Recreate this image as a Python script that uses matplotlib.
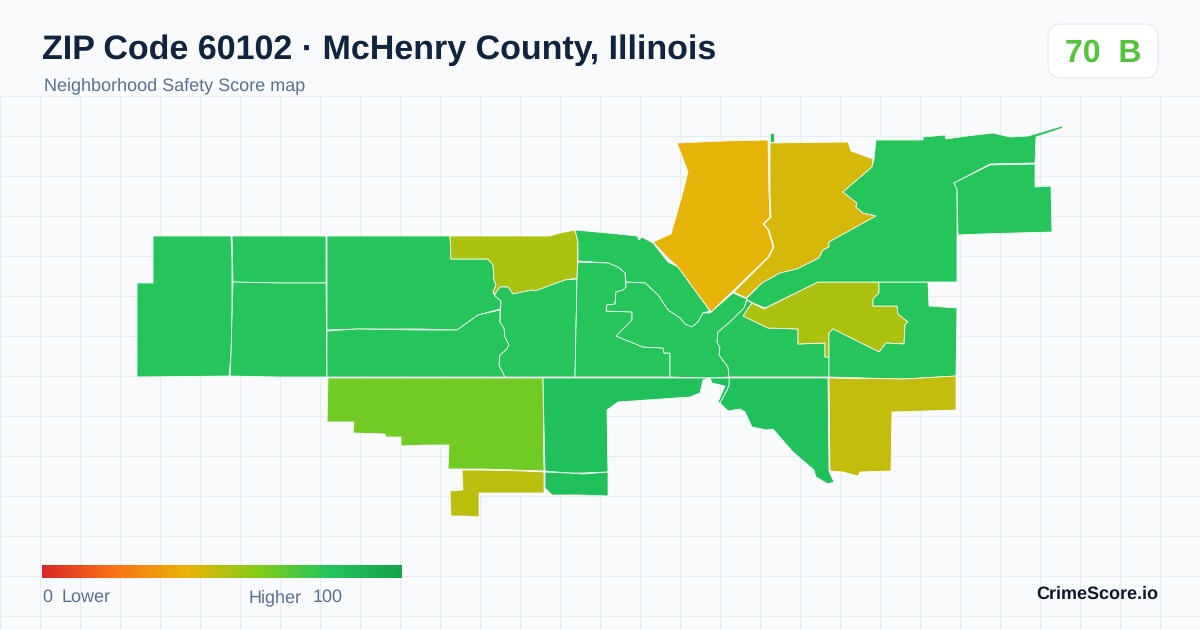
import numpy as np
import matplotlib
matplotlib.use("Agg")
import matplotlib.pyplot as plt
from matplotlib.colors import LinearSegmentedColormap, Normalize
from matplotlib.patches import FancyBboxPatch, Polygon

plt.rcParams['font.family'] = ['Liberation Sans', 'DejaVu Sans']
plt.rcParams['text.hinting'] = 'no_hinting'
plt.rcParams['text.hinting_factor'] = 1

title = "ZIP Code 60102 · McHenry County, Illinois"
subtitle = "Neighborhood Safety Score map"
badge_text = "70  B"
brand = "CrimeScore.io"

# Tract outlines, with the score each one is shaded by
west_a = [(153,236),(231,236),(232,260),(232,317),(231,355),(229,376),(137,377),(137,283),(153,283)]
west_b = [(232,236),(326,236),(326,283),(279,283),(233,282)]
west_c = [(233,282),(279,283),(326,283),(327,377),(278,377),(230,376),(231,355),(232,317)]
mid_d = [(327,236),(450,236),(451,259),(488,259),(493,265),(494,280),(496,285),(493,292),(495,296),(501,301),(500,309),(478,315),(457,330),(420,329),(357,329),(327,330)]
mid_e = [(327,331),(357,329),(420,330),(457,330),(478,315),(500,310),(500,322),(504,328),(505,337),(509,345),(507,349),(500,355),(499,365),(505,377),(327,377)]
mid_f = [(450,236),(550,236),(560,233),(575,230),(578,242),(577,278),(565,280),(535,291),(532,290),(513,294),(508,287),(500,287),(495,294),(493,292),(496,285),(494,280),(493,265),(488,259),(451,259)]
mid_g = [(495,294),(500,287),(508,287),(513,294),(532,290),(535,291),(565,280),(577,279),(575,377),(505,377),(499,365),(500,355),(507,349),(509,345),(505,337),(504,328),(500,322),(501,301),(495,296)]
cen_h = [(575,230),(597,232),(628,235),(637,236),(639,240),(642,237),(653,243),(668,262),(678,267),(710,311),(703,313),(698,322),(692,327),(685,324),(680,318),(668,310),(658,295),(645,283),(626,282),(625,273),(618,267),(608,263),(578,261),(578,242)]
cen_i = [(578,262),(608,263),(618,267),(625,273),(626,287),(623,290),(616,292),(615,304),(607,305),(606,311),(632,312),(632,320),(616,336),(643,347),(663,348),(664,353),(670,353),(670,377),(575,377),(577,278)]
cen_j = [(626,282),(645,283),(658,295),(668,310),(680,318),(685,324),(692,327),(698,322),(703,313),(710,313),(733,293),(747,299),(744,308),(730,322),(718,332),(717,342),(720,348),(719,355),(728,367),(729,377),(710,378),(670,377),(670,353),(664,353),(663,348),(643,347),(616,336),(632,320),(632,312),(606,311),(607,305),(615,304),(616,292),(623,290),(626,287)]
cen_k = [(747,300),(752,303),(743,316),(768,328),(798,329),(798,344),(825,343),(825,357),(829,357),(829,377),(729,377),(728,367),(719,355),(720,348),(717,342),(718,332),(730,322),(744,308)]
east_l = [(752,303),(764,309),(818,282),(879,282),(879,293),(873,299),(873,306),(897,306),(898,314),(908,322),(905,325),(904,344),(886,343),(879,352),(833,329),(829,333),(829,357),(825,357),(825,343),(798,344),(798,329),(768,328),(743,316)]
east_m = [(879,282),(928,282),(929,306),(957,308),(956,376),(903,379),(829,377),(829,333),(833,329),(879,352),(886,343),(904,344),(905,325),(908,322),(898,314),(897,306),(873,306),(873,299),(879,293)]
south_n = [(328,378),(543,378),(544,471),(482,469),(448,469),(449,445),(425,445),(401,446),(401,437),(386,437),(385,434),(353,433),(354,422),(327,422)]
south_o = [(543,378),(670,378),(710,378),(703,380),(700,393),(690,397),(618,402),(607,410),(608,472),(583,473),(568,473),(545,471),(544,427)]
south_p = [(545,472),(568,473),(583,474),(608,472),(608,496),(580,495),(552,495),(545,488)]
south_q = [(462,470),(482,470),(524,471),(544,472),(544,493),(479,493),(479,517),(465,516),(451,516),(450,491),(463,490)]
south_r = [(729,378),(798,378),(828,378),(829,471),(834,482),(828,484),(816,477),(814,470),(793,452),(773,429),(767,430),(752,427),(745,412),(740,409),(728,411),(720,403),(727,390),(729,385)]
south_s = [(710,378),(729,378),(729,385),(727,390),(720,403),(718,402),(725,386),(712,383)]
south_t = [(829,378),(903,379),(956,376),(956,410),(892,412),(891,471),(860,472),(858,476),(843,472),(830,471)]
north_u = [(677,143),(723,141),(768,140),(769,193),(770,217),(763,224),(768,230),(773,247),(768,257),(711,312),(678,267),(667,257),(653,242),(671,234),(683,192),(688,172)]
north_v = [(770,143),(848,142),(851,151),(873,159),(872,167),(843,192),(857,203),(856,207),(863,213),(876,216),(829,242),(829,247),(823,250),(819,258),(797,269),(780,273),(762,283),(746,298),(734,292),(769,257),(774,247),(769,230),(764,224),(771,217),(770,193)]
north_w = [(876,140),(923,140),(923,137),(945,135),(946,139),(967,136),(993,133),(1010,137),(1028,136),(1035,134),(1062,126),(1063,128),(1036,137),(1035,163),(990,164),(954,183),(957,189),(957,282),(818,282),(765,308),(753,303),(746,299),(762,283),(780,273),(797,269),(819,258),(823,250),(829,247),(829,242),(876,216),(863,213),(856,207),(857,203),(843,192),(872,167),(874,159)]
north_x = [(990,165),(1035,164),(1035,187),(1051,186),(1052,232),(981,234),(958,235),(957,189),(954,183)]
north_y = [(770,133),(774,133),(774,142),(770,142)]

tracts = [west_a, west_b, west_c, mid_d, mid_e, mid_f, mid_g, cen_h, cen_i, cen_j, cen_k,
          east_l, east_m, south_n, south_o, south_p, south_q, south_r, south_s, south_t,
          north_u, north_v, north_w, north_x, north_y]
scores = [79, 79, 79, 79, 79, 52, 79, 79, 79, 79, 79,
          52, 79, 64, 83, 83, 49, 83, 83, 48,
          41, 44, 79, 79, 79]

scale_positions = [0, 0.2, 0.4, 0.6, 0.8, 1]
scale_colors = ["#dc2626", "#f97316", "#eab308", "#84cc16", "#22c55e", "#16a34a"]
grid_xs = list(range(0, 1201, 40))
grid_ys = list(range(96, 631, 40))

BG = "#f8fafc"
cmap = LinearSegmentedColormap.from_list("score", list(zip(scale_positions, scale_colors)))
norm = Normalize(0, 100)

fig = plt.figure(figsize=(12, 6.3), dpi=100, facecolor=BG)
ax = fig.add_axes([0, 0, 1, 1])
ax.set_xlim(0, 1200)
ax.set_ylim(630, 0)
ax.axis("off")

ax.vlines(grid_xs, 96, 630, color="#e6edf2", lw=0.8, zorder=1)
ax.hlines(grid_ys, 0, 1200, color="#e6edf2", lw=0.8, zorder=1)

for shape, score in zip(tracts, scores):
    ax.add_patch(Polygon(shape, closed=True, facecolor=cmap(norm(score)),
                         edgecolor="white", lw=0.55, joinstyle="round", zorder=2))

TXT = "#5a7090"
ax.text(42, 59, title, fontsize=24.5, fontweight="bold", color="#10243e", va="baseline", ha="left", zorder=5)
ax.text(44, 90, subtitle, fontsize=13.3, color=TXT, va="baseline", ha="left", zorder=5)

ax.add_patch(FancyBboxPatch((1060, 36), 86, 30, boxstyle="round,pad=12,rounding_size=14",
                            facecolor="white", edgecolor="#e2e8f0", lw=0.8, zorder=4))
ax.text(1103, 62, badge_text, fontsize=23, fontweight="bold", color="#55c43c", va="baseline", ha="center", zorder=5)

grad = np.linspace(0, 100, 360).reshape(1, -1)
ax.imshow(grad, extent=(42, 402, 578, 565), cmap=cmap, norm=norm, aspect="auto", zorder=4)
ax.set_xlim(0, 1200)
ax.set_ylim(630, 0)

ax.text(42, 602, "0", fontsize=13.3, color=TXT, va="baseline", ha="left", zorder=5)
ax.text(62, 602, "Lower", fontsize=13.3, color=TXT, va="baseline", ha="left", zorder=5)
ax.text(249, 602, "Higher", fontsize=13.3, color=TXT, va="baseline", ha="left", zorder=5)
ax.text(313, 602, "100", fontsize=13.3, color=TXT, va="baseline", ha="left", zorder=5)
ax.text(1158, 599, brand, fontsize=13, fontweight="bold", color="#0f172a", va="baseline", ha="right", zorder=5)

fig.savefig("out.png", dpi=100, facecolor=BG)
